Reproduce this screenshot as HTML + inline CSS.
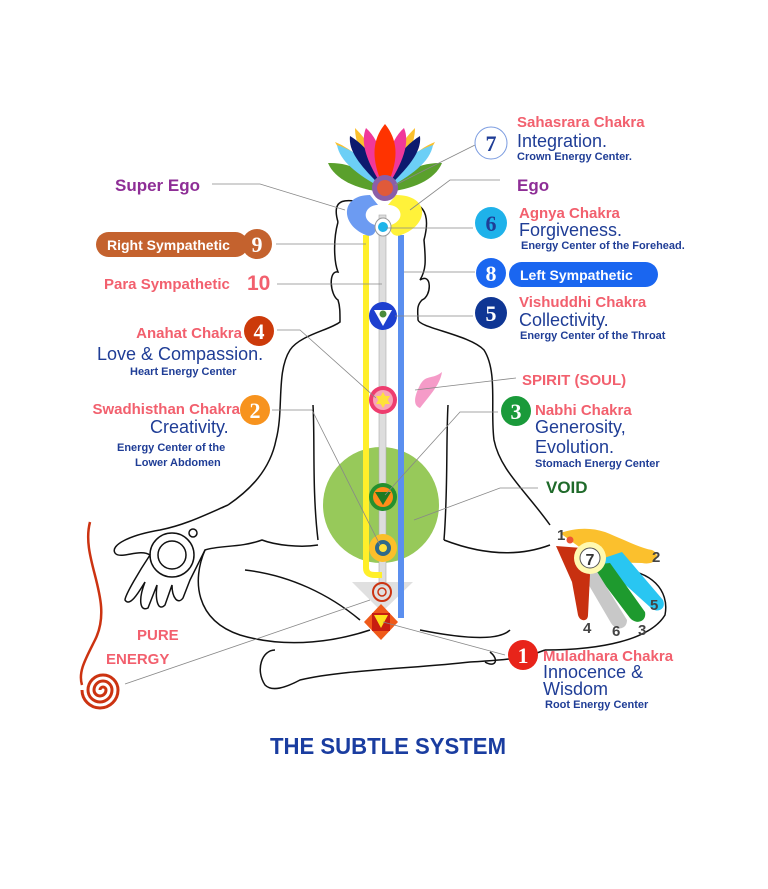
<!DOCTYPE html>
<html><head><meta charset="utf-8"><style>
html,body{margin:0;padding:0;background:#fff;}
svg{display:block;}
text{font-family:"Liberation Sans",sans-serif;}
.h{font-weight:bold;fill:#f2606e;font-size:15px;}
.m{fill:#1f3d96;font-size:18px;}
.s{font-weight:bold;fill:#1f3d96;font-size:11px;}
.n{font-family:"Liberation Serif",serif;font-weight:bold;font-size:22px;fill:#fff;text-anchor:middle;}
.ld{stroke:#888;stroke-width:0.8;fill:none;}
.b{stroke:#111;stroke-width:1.5;fill:none;}
</style></head><body>
<svg width="768" height="889" viewBox="0 0 768 889" xmlns="http://www.w3.org/2000/svg">
<circle cx="381" cy="505" r="58" fill="#97c95a"/>
<path class="b" d="M338,222 C330,195 350,200 366,203 M400,203 C420,200 432,210 424,240 C426,262 426,270 420,280 C432,272 432,296 422,300 C416,306 418,312 418,320 C420,328 470,335 484,350 C498,372 490,410 494,440 C500,470 525,490 550,525"/>
<path class="b" d="M338,222 C333,240 334,262 338,272 C328,270 330,295 338,300 C340,306 340,312 340,322 C330,330 300,335 290,350 C276,372 284,410 276,440 C270,470 250,490 228,505"/>
<path class="b" d="M313,405 C315,440 312,490 318,540 M448,405 C446,440 448,490 444,540"/>
<path class="b" d="M228,505 C205,515 185,525 160,530 C130,535 110,545 115,553 C120,560 140,548 150,555 C140,570 125,595 125,600 C130,608 140,590 145,582 C138,600 140,612 148,608 L157,585 C155,600 158,612 165,605 L172,585 C172,598 178,605 183,598 L190,580 C195,570 200,560 205,550 C220,545 240,548 262,540 C275,545 300,548 318,545"/>
<circle cx="172" cy="555" r="14" class="b"/><circle cx="172" cy="555" r="22" class="b"/><circle cx="193" cy="533" r="4" class="b"/>
<path class="b" d="M205,550 C192,580 195,620 240,635 C290,650 340,640 370,630 M245,570 C290,575 330,595 360,620"/>
<path class="b" d="M275,650 C262,650 255,670 265,685 C272,692 285,688 300,680 C340,670 420,668 470,662 C500,660 520,660 545,650"/>
<path class="b" d="M444,540 C470,550 510,560 550,545 M420,630 C470,640 500,640 510,630 M490,652 C500,660 495,668 485,662"/>
<path class="b" d="M545,650 C600,650 650,640 665,615 C670,590 650,570 620,570"/>
<!-- right hand -->
<path d="M560,533 C575,528 590,527 605,532 C625,540 640,548 652,550 C662,555 656,566 642,563 L600,562 Z" fill="#fbc02d"/>
<path d="M598,560 L622,552 L663,600 C667,610 656,614 650,607 Z" fill="#29c6f2"/>
<path d="M590,565 L610,563 L645,612 C647,622 636,625 630,618 Z" fill="#1e9a2e"/>
<path d="M580,570 L596,570 L627,620 C627,630 616,631 611,623 Z" fill="#c8c8c8"/>
<path d="M556,546 L582,548 L590,575 L588,615 C588,622 580,622 578,615 L572,582 Z" fill="#c83010"/>
<circle cx="590" cy="558" r="16" fill="#fff9b0"/><circle cx="590" cy="558" r="10" fill="#fff" stroke="#555"/>
<text x="590" y="565" font-size="16" font-weight="bold" text-anchor="middle" fill="#333">7</text>
<circle cx="570" cy="540" r="3.5" fill="#e53"/>
<g font-size="15" font-weight="bold" fill="#444"><text x="557" y="540">1</text><text x="652" y="562">2</text><text x="638" y="635">3</text><text x="583" y="633">4</text><text x="612" y="636">6</text><text x="650" y="610">5</text></g>
<!-- pure energy wave & spiral -->
<path d="M90,522 C80,560 115,600 95,640 C85,660 78,672 82,685" stroke="#cc3311" stroke-width="2.5" fill="none"/>
<path d="M100,690 a3,3 0 0,1 6,0 a6,6 0 0,1 -12,0 a9,9 0 0,1 18,0 a12,12 0 0,1 -24,0 a15,15 0 0,1 30,0 a18,18 0 0,1 -36,0" stroke="#cc3311" stroke-width="3" fill="none"/>
<path d="M352,582 L413,582 L382,612 Z" fill="#e0e0e0"/>
<rect x="379" y="215" width="7" height="370" fill="#ddd" stroke="#aaa" stroke-width="0.6"/>
<path d="M366,235 L366,568 Q366,575 375,575 L382,575" stroke="#ffef2a" stroke-width="6" fill="none"/>
<path d="M401,235 L401,618" stroke="#5b8fef" stroke-width="6" fill="none"/>
<path d="M370,195 C340,195 340,225 366,235 C372,238 378,232 375,225 C360,220 365,205 378,205 Z" fill="#6c9bf2"/>
<path d="M396,195 C430,195 430,225 401,235 C395,238 388,232 391,225 C406,220 402,205 388,205 Z" fill="#fff23a"/>
<ellipse cx="383" cy="227" rx="8" ry="9" fill="#fff" stroke="#999"/><circle cx="383" cy="227" r="5" fill="#1eb4ea"/>
<!-- lotus -->
<g>
<path d="M385,190 C360,175 345,160 335,142 C355,150 375,170 385,190Z" fill="#fbc02d"/>
<path d="M385,190 C410,175 425,160 435,142 C415,150 395,170 385,190Z" fill="#fbc02d"/>
<path d="M385,190 C365,165 355,145 355,128 C372,145 382,165 385,190Z" fill="#fbc02d"/>
<path d="M385,190 C405,165 415,145 415,128 C398,145 388,165 385,190Z" fill="#fbc02d"/>
<path d="M385,192 C358,190 335,180 328,163 C352,162 375,175 385,192Z" fill="#5aa02c"/>
<path d="M385,192 C412,190 435,180 442,163 C418,162 395,175 385,192Z" fill="#5aa02c"/>
<path d="M385,190 C358,175 340,162 337,145 C360,152 378,170 385,190Z" fill="#6ccff6"/>
<path d="M385,190 C412,175 430,162 433,145 C410,152 392,170 385,190Z" fill="#6ccff6"/>
<path d="M385,190 C362,168 348,152 350,136 C370,148 382,170 385,190Z" fill="#0d1a6e"/>
<path d="M385,190 C408,168 422,152 420,136 C400,148 388,170 385,190Z" fill="#0d1a6e"/>
<path d="M385,190 C366,162 360,142 366,128 C382,142 386,170 385,190Z" fill="#f0389a"/>
<path d="M385,190 C404,162 410,142 404,128 C388,142 384,170 385,190Z" fill="#f0389a"/>
<path d="M385,190 C370,160 372,140 385,124 C398,140 400,160 385,190Z" fill="#ff3300"/>
<circle cx="385" cy="188" r="13" fill="#8a5fa8"/><circle cx="385" cy="188" r="8" fill="#e05a3a"/>
</g>
<circle cx="383" cy="316" r="14" fill="#1d3fcf"/><path d="M374,310 L392,310 L383,326Z" fill="#fff"/><circle cx="383" cy="314" r="3.5" fill="#4a8a3a"/>
<circle cx="383" cy="400" r="14" fill="#ee3d6f"/><circle cx="383" cy="400" r="10" fill="#f7a6b8"/><path d="M383,392 L390,404 L376,404Z M383,408 L376,396 L390,396Z" fill="#ffe23a"/>
<path d="M420,408 C430,395 440,385 442,372 C432,380 426,374 420,385 C415,395 412,405 420,408Z" fill="#f59bc8"/>
<circle cx="383" cy="497" r="14" fill="#25902e"/><circle cx="383" cy="497" r="10" fill="#ff8c1a"/><path d="M375,492 L391,492 L383,505Z" fill="#1f7a22"/>
<circle cx="383" cy="548" r="14" fill="#fbbf2a"/><circle cx="383" cy="548" r="8" fill="#2e6a8a"/><circle cx="383" cy="548" r="4" fill="#ffe23a"/>
<circle cx="382" cy="592" r="9" fill="none" stroke="#cc3311" stroke-width="2"/><circle cx="382" cy="592" r="4" fill="none" stroke="#cc3311" stroke-width="1.5"/>
<path d="M381,604 L398,622 L381,640 L364,622Z" fill="#ef5a1a"/><rect x="372" y="613" width="18" height="18" fill="#c81e10"/><path d="M374,615 L388,615 L381,628Z" fill="#ffe01a"/>
<g class="ld">
<path d="M212,184 L260,184 L345,210"/><path d="M410,210 L450,180 L500,180"/><path d="M395,185 L475,145"/>
<path d="M386,228 L473,228"/><path d="M404,272 L475,272"/><path d="M395,316 L473,316"/>
<path d="M276,244 L366,244"/><path d="M277,284 L382,284"/><path d="M277,330 L300,330 L376,398"/>
<path d="M272,410 L312,410 L380,545"/><path d="M415,390 L516,378"/><path d="M385,495 L460,412 L498,412"/>
<path d="M414,520 L500,488 L538,488"/><path d="M383,622 L505,655"/><path d="M125,684 L370,600"/>
</g>
<text x="115" y="191" font-size="17" font-weight="bold" fill="#8e2e96">Super Ego</text>
<rect x="96" y="232" width="152" height="25" rx="12.5" fill="#c4622e"/>
<text x="107" y="250" font-size="14" font-weight="bold" fill="#fff">Right Sympathetic</text>
<circle cx="257" cy="244" r="15" fill="#c4622e"/><text class="n" x="257" y="252">9</text>
<text x="104" y="289" class="h" font-size="14">Para Sympathetic</text>
<text x="247" y="290" font-family="Liberation Serif,serif" font-weight="bold" font-size="21" fill="#f2606e">10</text>
<text x="242" y="338" class="h" text-anchor="end">Anahat Chakra</text>
<circle cx="259" cy="331" r="15" fill="#cc3a0a"/><text class="n" x="259" y="339">4</text>
<text x="97" y="360" class="m">Love &amp; Compassion.</text>
<text x="130" y="375" class="s" font-size="12">Heart Energy Center</text>
<text x="240" y="414" class="h" text-anchor="end">Swadhisthan Chakra</text>
<circle cx="255" cy="410" r="15" fill="#f7931e"/><text class="n" x="255" y="418">2</text>
<text x="150" y="433" class="m">Creativity.</text>
<text x="117" y="451" class="s" font-size="12">Energy Center of the</text>
<text x="135" y="466" class="s" font-size="12">Lower Abdomen</text>
<text x="137" y="640" class="h" font-size="18">PURE</text>
<text x="106" y="664" class="h" font-size="18">ENERGY</text>
<circle cx="491" cy="143" r="16" fill="#fff" stroke="#7a9be0"/><text class="n" x="491" y="151" style="fill:#1f3d96">7</text>
<text x="517" y="127" class="h">Sahasrara Chakra</text>
<text x="517" y="147" class="m">Integration.</text>
<text x="517" y="160" class="s">Crown Energy Center.</text>
<text x="517" y="191" font-size="17" font-weight="bold" fill="#8e2e96">Ego</text>
<circle cx="491" cy="223" r="16" fill="#1fb2ea"/><text class="n" x="491" y="231" style="fill:#1f3d96">6</text>
<text x="519" y="218" class="h">Agnya Chakra</text>
<text x="519" y="236" class="m">Forgiveness.</text>
<text x="521" y="249" class="s">Energy Center of the Forehead.</text>
<circle cx="491" cy="273" r="15" fill="#1a66f0"/><text class="n" x="491" y="281">8</text>
<rect x="509" y="262" width="149" height="25" rx="12.5" fill="#1a66f0"/>
<text x="520" y="280" font-size="14" font-weight="bold" fill="#fff">Left Sympathetic</text>
<circle cx="491" cy="313" r="16" fill="#0f3694"/><text class="n" x="491" y="321">5</text>
<text x="519" y="307" class="h">Vishuddhi Chakra</text>
<text x="519" y="326" class="m">Collectivity.</text>
<text x="520" y="339" class="s">Energy Center of the Throat</text>
<text x="522" y="385" class="h" font-size="17">SPIRIT (SOUL)</text>
<circle cx="516" cy="411" r="15" fill="#1a9a3a"/><text class="n" x="516" y="419">3</text>
<text x="535" y="415" class="h">Nabhi Chakra</text>
<text x="535" y="433" class="m">Generosity,</text>
<text x="535" y="453" class="m">Evolution.</text>
<text x="535" y="467" class="s">Stomach Energy Center</text>
<text x="546" y="493" font-size="17" font-weight="bold" fill="#1f6a2a">VOID</text>
<circle cx="523" cy="655" r="15" fill="#e8241a"/><text class="n" x="523" y="663">1</text>
<text x="543" y="661" class="h">Muladhara Chakra</text>
<text x="543" y="678" class="m">Innocence &amp;</text>
<text x="543" y="695" class="m">Wisdom</text>
<text x="545" y="708" class="s" font-size="12">Root Energy Center</text>
<text x="388" y="754" font-size="23" font-weight="bold" fill="#1a3da0" text-anchor="middle" textLength="236" lengthAdjust="spacingAndGlyphs">THE SUBTLE SYSTEM</text>
</svg>
</body></html>
